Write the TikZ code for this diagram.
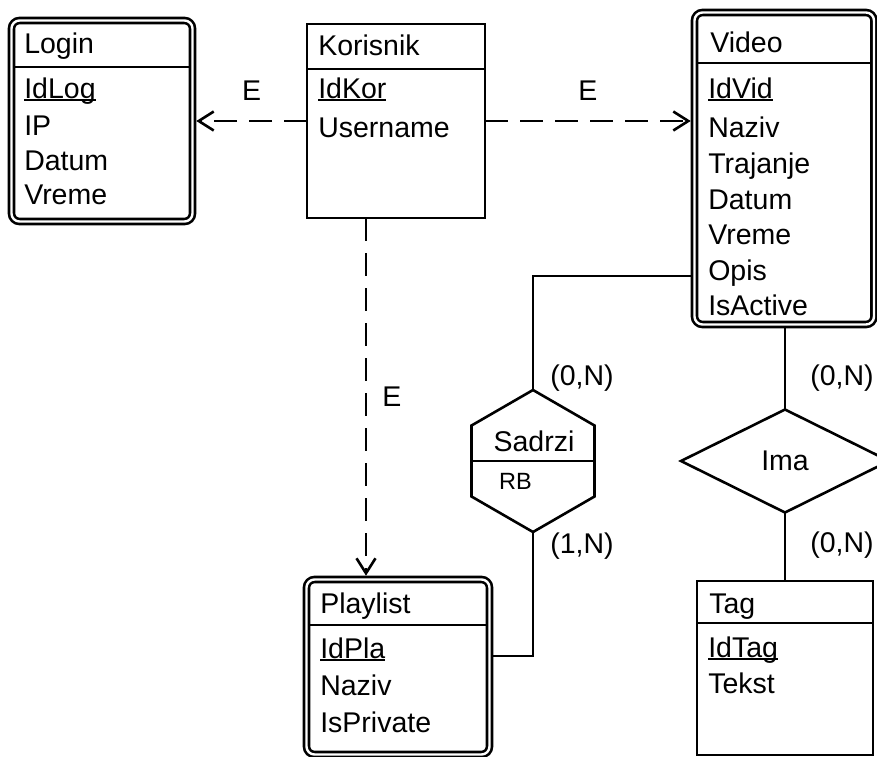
\documentclass[tikz,border=0pt]{standalone}
\usepackage{fontspec}
\setmainfont{Liberation Sans}
\usetikzlibrary{arrows.meta, calc, shapes.geometric}

% underlined key attribute
\newcommand{\pkey}[1]{\setbox0\hbox{#1}\rlap{\rule[-3pt]{\wd0}{2pt}}\box0}

\begin{document}
\begin{tikzpicture}[x=1pt, y=-1pt, line width=2.6pt,
  font=\fontsize{28.5}{34}\selectfont,
  entity/.style={draw, rectangle, inner sep=0pt, outer sep=0pt},
  weak/.style={entity, double, double distance=2.4pt, rounded corners=8pt, outer sep=3.8pt},
  attr/.style={anchor=base west, inner sep=0pt},
  card/.style={anchor=base west, inner sep=0pt},
  elabel/.style={inner sep=0pt},
  rel/.style={dash pattern=on 23pt off 12pt, -{Straight Barb[length=15pt, width=19pt]}}]
\useasboundingbox (0,0) rectangle (877,756);
% Login entity
\node[weak, minimum width=181pt, minimum height=201pt] (login) at (102,121) {};
\draw[shorten <=6.3pt, shorten >=6.3pt] (login.west |- 0,67) -- (login.east |- 0,67);
\node[attr] (loginT) at (23,53) {Login};
\node[attr] (loginA1) at (23,98) {\pkey{IdLog}};
\node[attr] (loginA2) at (23,135) {IP};
\node[attr] (loginA3) at (23,170) {Datum};
\node[attr] (loginA4) at (23,204) {Vreme};
% Korisnik entity
\node[entity, minimum width=178pt, minimum height=194pt] (korisnik) at (396,121) {};
\draw (korisnik.west |- 0,69) -- (korisnik.east |- 0,69);
\node[attr] (korT) at (317,55) {Korisnik};
\node[attr] (korA1) at (317,98) {\pkey{IdKor}};
\node[attr] (korA2) at (317,137) {Username};
% Video entity
\node[weak, minimum width=179.5pt, minimum height=312pt] (video) at (784.25,168.5) {};
\draw[shorten <=6.3pt, shorten >=6.3pt] (video.west |- 0,63) -- (video.east |- 0,63);
\node[attr] (vidT) at (709,52) {Video};
\node[attr] (vidA1) at (707,98) {\pkey{IdVid}};
\node[attr] (vidA2) at (707,137) {Naziv};
\node[attr] (vidA3) at (707,173) {Trajanje};
\node[attr] (vidA4) at (707,209) {Datum};
\node[attr] (vidA5) at (707,244) {Vreme};
\node[attr] (vidA6) at (707,280) {Opis};
\node[attr] (vidA7) at (707,315) {IsActive};
% Playlist entity
\node[weak, minimum width=183pt, minimum height=175pt] (playlist) at (398,667) {};
\draw[shorten <=6.3pt, shorten >=6.3pt] (playlist.west |- 0,625) -- (playlist.east |- 0,625);
\node[attr] (plT) at (319,613) {Playlist};
\node[attr] (plA1) at (319,658) {\pkey{IdPla}};
\node[attr] (plA2) at (319,695) {Naziv};
\node[attr] (plA3) at (319,732) {IsPrivate};
% Tag entity
\node[entity, minimum width=176pt, minimum height=174pt] (tag) at (785,668) {};
\draw (tag.west |- 0,623) -- (tag.east |- 0,623);
\node[attr] (tagT) at (708,613) {Tag};
\node[attr] (tagA1) at (707,657) {\pkey{IdTag}};
\node[attr] (tagA2) at (707,693) {Tekst};
% Relationships
\node[draw, regular polygon, regular polygon sides=6, shape border rotate=30, minimum size=142pt, inner sep=0pt, outer sep=0pt] (sadrzi) at (533,461) {};
\draw (sadrzi.180) -- (sadrzi.0);
\node[anchor=base, inner sep=0pt] (sadrziT) at (534,451) {Sadrzi};
\node[anchor=base, inner sep=0pt, font=\fontsize{23.5}{28}\selectfont] (sadrziA) at (515.5,489) {RB};
\node[draw, diamond, minimum width=208pt, minimum height=103pt, inner sep=0pt, outer sep=0pt] (ima) at (785,461) {Ima};
% Dependencies
\coordinate (kdown) at ([xshift=-30pt]korisnik.south);
\draw[rel] (korisnik.west) -- node[elabel, above=19pt] {E} (login.east);
\draw[rel] (korisnik.east) -- node[elabel, above=19pt] {E} (korisnik.east -| video.west);
\draw[rel] (kdown) -- node[elabel, right=15pt] {E} (kdown |- playlist.north);
% Relationship links
\draw (sadrzi.90) |- (video.west |- 0,276);
\draw (sadrzi.270) |- (playlist.east |- 0,656);
\draw (ima.north |- video.south) -- (ima.north);
\draw (ima.south) -- (ima.south |- tag.north);
% Cardinalities
\node[card] (c1) at ([xshift=16pt, yshift=5pt]sadrzi.90) {(0,N)};
\node[card] (c2) at ([xshift=16pt, yshift=-21pt]sadrzi.270) {(1,N)};
\node[card] (c3) at ([xshift=24pt, yshift=24pt]ima.north) {(0,N)};
\node[card] (c4) at ([xshift=24pt, yshift=-40pt]ima.south) {(0,N)};
\end{tikzpicture}
\end{document}
